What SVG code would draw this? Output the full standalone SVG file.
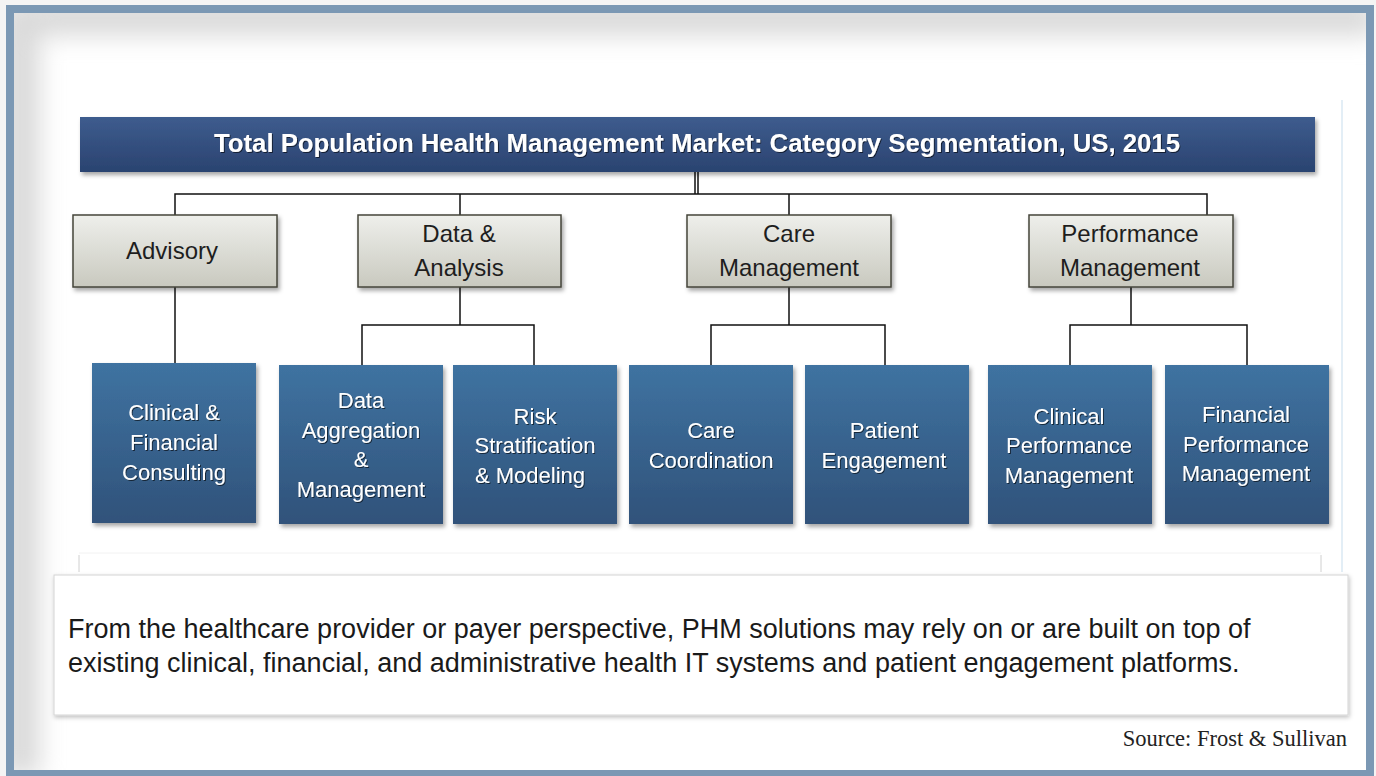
<svg xmlns="http://www.w3.org/2000/svg" width="1376" height="776" viewBox="0 0 1376 776">
<defs>
<linearGradient id="gTitle" x1="0" y1="0" x2="0" y2="1"><stop offset="0" stop-color="#3E5C8E"/><stop offset="1" stop-color="#2A4370"/></linearGradient>
<linearGradient id="gCat" x1="0" y1="0" x2="0" y2="1"><stop offset="0" stop-color="#EEEFEB"/><stop offset="1" stop-color="#C9C9BF"/></linearGradient>
<linearGradient id="gLeaf" x1="0" y1="0" x2="0" y2="1"><stop offset="0" stop-color="#3F73A1"/><stop offset="1" stop-color="#30527A"/></linearGradient>
<filter id="sh" x="-10%" y="-10%" width="120%" height="130%"><feDropShadow dx="2" dy="3" stdDeviation="2" flood-color="#000" flood-opacity="0.35"/></filter>
<filter id="sh2" x="-5%" y="-10%" width="110%" height="130%"><feDropShadow dx="1" dy="2" stdDeviation="2" flood-color="#000" flood-opacity="0.25"/></filter>
<filter id="ts" x="-10%" y="-20%" width="120%" height="140%"><feDropShadow dx="1" dy="1" stdDeviation="0.6" flood-color="#000" flood-opacity="0.6"/></filter>
<filter id="blur" x="-10%" y="-10%" width="120%" height="120%"><feGaussianBlur stdDeviation="12"/></filter>
<clipPath id="inner"><rect x="14" y="13" width="1352" height="757"/></clipPath>
</defs>
<style>
.cat{fill:url(#gCat);stroke:#45453A;stroke-width:1.5}
.leaf{fill:url(#gLeaf)}
.ct{font-family:"Liberation Sans",Arial,sans-serif;font-size:24px;fill:#1E1E1E;text-anchor:middle}
.lt{font-family:"Liberation Sans",Arial,sans-serif;font-size:22px;fill:#FFFFFF;text-anchor:middle}
.conn{fill:none;stroke:#111;stroke-width:1.5}
</style>
<rect x="0" y="0" width="1376" height="776" fill="#F4F4F4"/>
<rect x="14" y="13" width="1352" height="757" fill="#FFFFFF"/>
<g clip-path="url(#inner)">
<path d="M0 0 H1376 V36 H40 V776 H0 Z" fill="#DADADA" filter="url(#blur)"/>
</g>
<rect x="10" y="9" width="1360" height="765" fill="none" stroke="#7B98B4" stroke-width="8"/>
<line x1="1342" y1="100" x2="1342" y2="572" stroke="#E3EEF6" stroke-width="2"/>
<line x1="79" y1="553" x2="1321" y2="553" stroke="#F2F2F2" stroke-width="1"/>
<line x1="79" y1="555" x2="79" y2="572" stroke="#D0D0D0" stroke-width="1"/>
<line x1="1321" y1="555" x2="1321" y2="572" stroke="#D0D0D0" stroke-width="1"/>

<g id="connectors">
<path class="conn" d="M695 172 V194 M698 172 V194 M175 215 V194 H1207 V215 M460 194 V215 M789 194 V215"/>
<path class="conn" d="M175 287 V364"/>
<path class="conn" d="M460 287 V325 M362 366 V325 H534 V366"/>
<path class="conn" d="M789 287 V325 M711 366 V325 H885 V366"/>
<path class="conn" d="M1131 287 V325 M1070 366 V325 H1247 V366"/>
</g>

<g id="title">
<rect x="80" y="117" width="1235" height="55" fill="url(#gTitle)" filter="url(#sh)"/>
<text x="214" y="152" font-family="'Liberation Sans',Arial,sans-serif" font-size="25" font-weight="bold" fill="#FFFFFF" textLength="966" lengthAdjust="spacingAndGlyphs" filter="url(#ts)">Total Population Health Management Market: Category Segmentation, US, 2015</text>
</g>

<g id="advisory"><rect class="cat" x="73" y="215" width="204" height="72" filter="url(#sh)"/><text class="ct" x="172" y="259">Advisory</text></g>
<g id="data-analysis"><rect class="cat" x="358" y="215" width="203" height="72" filter="url(#sh)"/><text class="ct" x="459" y="242">Data &amp;</text><text class="ct" x="459" y="276">Analysis</text></g>
<g id="care-management"><rect class="cat" x="687" y="215" width="204" height="72" filter="url(#sh)"/><text class="ct" x="789" y="242">Care</text><text class="ct" x="789" y="276">Management</text></g>
<g id="performance-management"><rect class="cat" x="1029" y="215" width="204" height="72" filter="url(#sh)"/><text class="ct" x="1130" y="242">Performance</text><text class="ct" x="1130" y="276">Management</text></g>

<g id="clinical-financial-consulting"><rect class="leaf" x="92" y="363" width="164" height="160" filter="url(#sh)"/><text class="lt" filter="url(#ts)"><tspan x="174" y="420">Clinical &amp;</tspan><tspan x="174" y="450">Financial</tspan><tspan x="174" y="480">Consulting</tspan></text></g>
<g id="data-aggregation"><rect class="leaf" x="279" y="365" width="164" height="159" filter="url(#sh)"/><text class="lt" filter="url(#ts)"><tspan x="361" y="408">Data</tspan><tspan x="361" y="438">Aggregation</tspan><tspan x="361" y="467">&amp;</tspan><tspan x="361" y="497">Management</tspan></text></g>
<g id="risk-stratification"><rect class="leaf" x="453" y="365" width="164" height="159" filter="url(#sh)"/><text class="lt" filter="url(#ts)"><tspan x="535" y="424">Risk</tspan><tspan x="535" y="453">Stratification</tspan><tspan x="530" y="483">&amp; Modeling</tspan></text></g>
<g id="care-coordination"><rect class="leaf" x="629" y="365" width="164" height="159" filter="url(#sh)"/><text class="lt" filter="url(#ts)"><tspan x="711" y="438">Care</tspan><tspan x="711" y="468">Coordination</tspan></text></g>
<g id="patient-engagement"><rect class="leaf" x="805" y="365" width="164" height="159" filter="url(#sh)"/><text class="lt" filter="url(#ts)"><tspan x="884" y="438">Patient</tspan><tspan x="884" y="468">Engagement</tspan></text></g>
<g id="clinical-performance"><rect class="leaf" x="988" y="365" width="164" height="159" filter="url(#sh)"/><text class="lt" filter="url(#ts)"><tspan x="1069" y="424">Clinical</tspan><tspan x="1069" y="453">Performance</tspan><tspan x="1069" y="483">Management</tspan></text></g>
<g id="financial-performance"><rect class="leaf" x="1165" y="365" width="164" height="159" filter="url(#sh)"/><text class="lt" filter="url(#ts)"><tspan x="1246" y="422">Financial</tspan><tspan x="1246" y="452">Performance</tspan><tspan x="1246" y="481">Management</tspan></text></g>

<g id="note">
<rect x="54" y="575" width="1294" height="140" fill="#FFFFFF" stroke="#D4D4D4" stroke-width="1" filter="url(#sh2)"/>
<text font-family="'Liberation Sans',Arial,sans-serif" font-size="27" fill="#1A1A1A"><tspan x="68" y="638">From the healthcare provider or payer perspective, PHM solutions may rely on or are built on top of</tspan><tspan x="68" y="672">existing clinical, financial, and administrative health IT systems and patient engagement platforms.</tspan></text>
</g>
<text x="1347" y="746" font-family="'Liberation Serif','Times New Roman',serif" font-size="22.5" fill="#222" text-anchor="end">Source: Frost &amp; Sullivan</text>
</svg>
